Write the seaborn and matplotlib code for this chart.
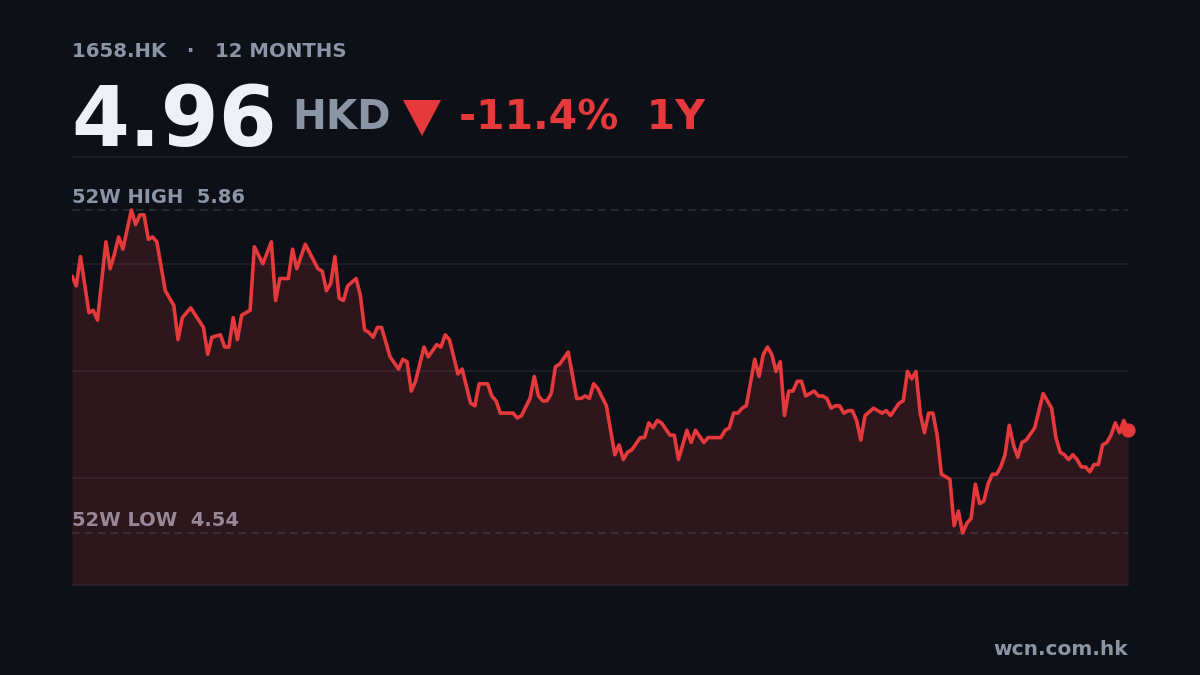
"""
1658.HK · precio de cierre 12 meses, estilo tarjeta oscura
"""

import numpy as np
import pandas as pd
import matplotlib.pyplot as plt
import matplotlib.patches as mpatches
import seaborn as sns

# Datos (índice de sesión, precio HKD)
day_idx = [
    0, 1, 2, 4, 5, 6, 8, 9, 10, 11, 12, 14, 15, 16, 17, 18, 19, 20, 22, 24,
    25, 26, 28, 31, 32, 33, 35, 36, 37, 38, 39, 40, 42, 43, 45, 47, 48, 49, 51, 52,
    53, 55, 58, 59, 60, 61, 62, 63, 64, 65, 67, 68, 69, 70, 71, 72, 73, 75, 77, 78,
    79, 80, 81, 83, 84, 86, 87, 88, 89, 91, 92, 94, 95, 96, 98, 99, 100, 101, 102, 103,
    104, 105, 106, 108, 109, 110, 111, 112, 113, 114, 115, 117, 119, 120, 121, 122, 123, 124, 126, 128,
    129, 130, 131, 132, 134, 135, 136, 137, 138, 139, 141, 142, 143, 145, 146, 147, 149, 150, 153, 154,
    155, 156, 157, 158, 159, 161, 162, 163, 164, 165, 166, 167, 168, 169, 170, 171, 172, 173, 175, 176,
    177, 178, 179, 180, 181, 182, 183, 184, 185, 186, 187, 189, 191, 192, 193, 195, 196, 197, 198, 199,
    200, 201, 202, 203, 204, 205, 207, 208, 209, 210, 211, 212, 213, 214, 215, 216, 217, 218, 219, 220,
    221, 222, 223, 224, 225, 227, 229, 231, 232, 233, 234, 235, 236, 237, 238, 239, 240, 241, 242, 243,
    244, 245, 246, 247, 248, 249,
]
price = [
    5.59, 5.55, 5.67, 5.44, 5.45, 5.41, 5.73, 5.62, 5.68, 5.75, 5.70, 5.86, 5.80, 5.84, 5.84, 5.74, 5.75, 5.73, 5.53, 5.47,
    5.33, 5.42, 5.46, 5.38, 5.27, 5.34, 5.35, 5.30, 5.30, 5.42, 5.33, 5.43, 5.45, 5.71, 5.64, 5.73, 5.49, 5.58, 5.58, 5.70,
    5.62, 5.72, 5.62, 5.61, 5.53, 5.56, 5.67, 5.50, 5.49, 5.55, 5.58, 5.51, 5.37, 5.36, 5.34, 5.38, 5.38, 5.26, 5.21, 5.25,
    5.24, 5.12, 5.16, 5.30, 5.26, 5.31, 5.30, 5.35, 5.33, 5.19, 5.21, 5.07, 5.06, 5.15, 5.15, 5.10, 5.08, 5.03, 5.03, 5.03,
    5.03, 5.01, 5.02, 5.09, 5.18, 5.10, 5.08, 5.08, 5.11, 5.22, 5.23, 5.28, 5.09, 5.09, 5.10, 5.09, 5.15, 5.13, 5.06, 4.86,
    4.90, 4.84, 4.87, 4.88, 4.93, 4.93, 4.99, 4.97, 5.00, 4.99, 4.94, 4.94, 4.84, 4.96, 4.91, 4.96, 4.91, 4.93, 4.93, 4.96,
    4.97, 5.03, 5.03, 5.05, 5.06, 5.25, 5.18, 5.27, 5.30, 5.27, 5.20, 5.24, 5.02, 5.12, 5.12, 5.16, 5.16, 5.10, 5.12, 5.10,
    5.10, 5.09, 5.05, 5.06, 5.06, 5.03, 5.04, 5.04, 5.00, 4.92, 5.02, 5.05, 5.03, 5.04, 5.02, 5.07, 5.08, 5.20, 5.17, 5.20,
    5.03, 4.95, 5.03, 5.03, 4.94, 4.78, 4.76, 4.57, 4.63, 4.54, 4.58, 4.60, 4.74, 4.66, 4.67, 4.74, 4.78, 4.78, 4.81, 4.86,
    4.98, 4.90, 4.85, 4.91, 4.92, 4.97, 5.11, 5.05, 4.93, 4.87, 4.86, 4.84, 4.86, 4.84, 4.81, 4.81, 4.79, 4.82, 4.82, 4.90,
    4.91, 4.94, 4.99, 4.95, 5.00, 4.96,
]

ticker = "1658.HK"
last_price = 4.96
change_pct = -11.4
high_52w = 5.86
low_52w = 4.54

df = pd.DataFrame({"day": day_idx, "price": price})

# Colores
BG = "#0d1017"
RED = "#e5393c"
GREY = "#8b95a5"
WHITE = "#eef0f5"
GRID = "#1e222a"
DASH = "#2b313b"

sns.set_style("dark", {"axes.facecolor": BG, "figure.facecolor": BG})
plt.rcParams['font.family'] = ['DejaVu Sans']

fig = plt.figure(figsize=(12, 6.75), dpi=100)
ax = fig.add_axes([0.06, 1 - 585 / 675, 0.88, (585 - 157) / 675])

y_lo, y_hi = 4.3275, 6.0766
ax.set_xlim(0, 249)
ax.set_ylim(y_lo, y_hi)

# rejilla horizontal (5 niveles, incluidos bordes)
for gy in np.linspace(y_lo, y_hi, 5):
    ax.axhline(gy, color=GRID, lw=1.2, zorder=0, clip_on=False)

# líneas 52W
for lvl in (high_52w, low_52w):
    ax.axhline(lvl, color=DASH, lw=1.2, ls=(0, (4.5, 3.2)), zorder=1)

ax.annotate(f"52W HIGH  {high_52w:.2f}", xy=(0, high_52w),
            xycoords=('axes fraction', 'data'), xytext=(0, 2.5),
            textcoords='offset points', ha='left', va='bottom',
            fontsize=14, fontweight='bold', color=GREY, zorder=1)
ax.annotate(f"52W LOW  {low_52w:.2f}", xy=(0, low_52w),
            xycoords=('axes fraction', 'data'), xytext=(0, 2.5),
            textcoords='offset points', ha='left', va='bottom',
            fontsize=14, fontweight='bold', color=GREY, zorder=1)

# área + línea
ax.fill_between(df['day'], df['price'], y_lo, color=RED, alpha=0.15,
                lw=0, zorder=2)
sns.lineplot(data=df, x='day', y='price', color=RED, lw=2.6, ax=ax,
             zorder=3)
ax.scatter(df['day'].iloc[-1], df['price'].iloc[-1], s=85, color=RED,
           zorder=4, clip_on=False)

ax.set_xticks([])
ax.set_yticks([])
ax.set_xlabel('')
ax.set_ylabel('')
for s in ax.spines.values():
    s.set_visible(False)

# Cabecera
fig.text(72 / 1200, 1 - 57 / 675, f"{ticker}   ·   12 MONTHS", fontsize=14.2,
         fontweight='bold', color=GREY, ha='left', va='baseline')
fig.text(71 / 1200, 1 - 146 / 675, f"{last_price:.2f}", fontsize=60,
         fontweight='bold', color=WHITE, ha='left', va='baseline')
fig.text(292 / 1200, 1 - 129 / 675, "HKD", fontsize=29,
         fontweight='bold', color=GREY, ha='left', va='baseline')
tri = mpatches.Polygon([[403 / 1200, 1 - 100 / 675], [441 / 1200, 1 - 100 / 675],
                        [422 / 1200, 1 - 136 / 675]], closed=True,
                       transform=fig.transFigure, color=RED, lw=0)
fig.add_artist(tri)
fig.text(459 / 1200, 1 - 129 / 675, f"{change_pct:.1f}%  1Y", fontsize=29.5,
         fontweight='bold', color=RED, ha='left', va='baseline')

fig.text(1128 / 1200, 1 - 655 / 675, "wcn.com.hk", fontsize=14.5,
         fontweight='bold', color=GREY, ha='right', va='baseline')

plt.savefig("out.png", dpi=100, facecolor=BG)
plt.close()
